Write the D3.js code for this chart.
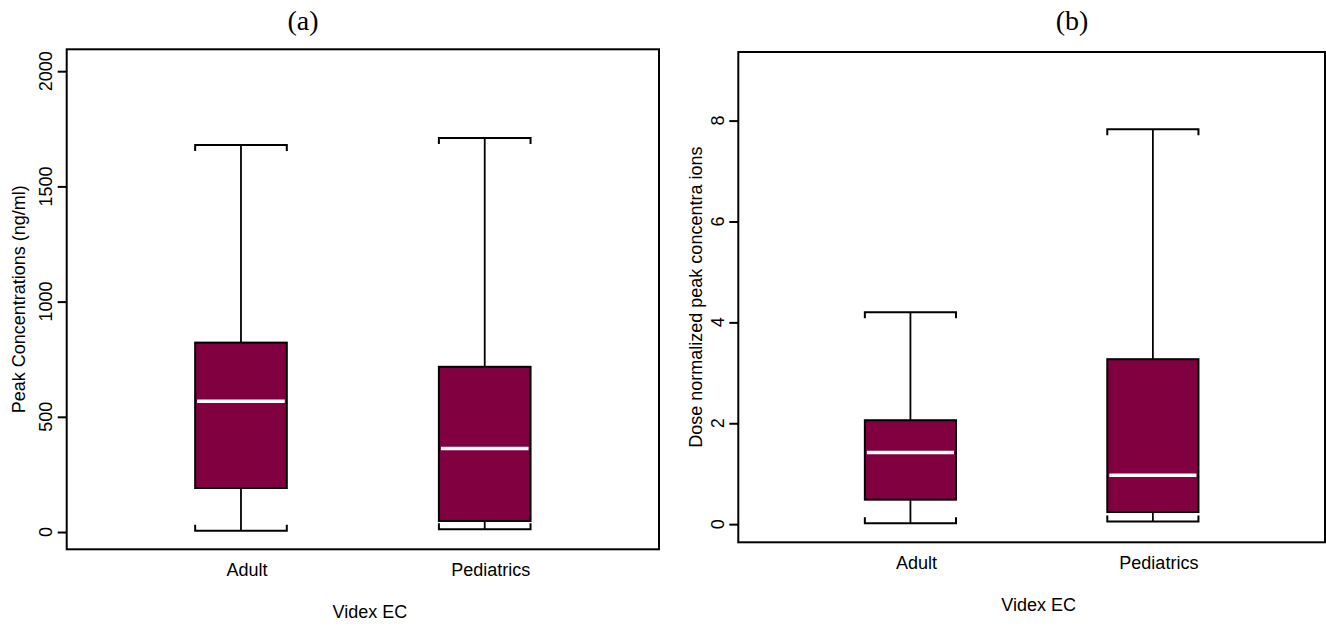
<!DOCTYPE html>
<html>
<head>
<meta charset="utf-8">
<script src="https://cdn.jsdelivr.net/npm/d3@7"></script>
<style>
  html, body { margin: 0; padding: 0; background: #fff; }
  svg { display: block; }
</style>
</head>
<body>
<svg id="chart" width="1326" height="628"></svg>
<script>
// ---- data ----
const categories = ["Adult", "Pediatrics"];
// five-number summaries: [lower whisker, Q1, median, Q3, upper whisker]
const peakConc = [
  [5, 191, 567, 822, 1680],
  [12, 48, 362, 717, 1710]
];
const doseNormPeak = [
  [0.02, 0.485, 1.42, 2.06, 4.20],
  [0.05, 0.24, 0.97, 3.27, 7.83]
];
const ticksA = [0, 500, 1000, 1500, 2000];
const ticksB = [0, 2, 4, 6, 8];
const titles = ["(a)", "(b)"];
const yTitles = ["Peak Concentrations (ng/ml)", "Dose normalized peak concentra ions"];
const xTitle = "Videx EC";

// ---- layout ----
const svg = d3.select("#chart");
const FILL = "#800040";
const SANS = "'Liberation Sans', Arial, Helvetica, sans-serif";
const SERIF = "'Liberation Serif', 'Times New Roman', serif";

const panels = [
  { data: peakConc, ticks: ticksA, title: titles[0], ytitle: yTitles[0],
    x0: 66.7, x1: 659, y0: 49.3, y1: 549.3, ydom: [-75, 2095], xdom: [0.285, 2.715],
    titleX: 303, ytitleX: 19, tickLabelX: 46.3 },
  { data: doseNormPeak, ticks: ticksB, title: titles[1], ytitle: yTitles[1],
    x0: 738.3, x1: 1325, y0: 52, y1: 542.3, ydom: [-0.36, 9.36], xdom: [0.29, 2.71],
    titleX: 1072, ytitleX: 696, tickLabelX: 718 }
];

const boxW = 0.376;

panels.forEach(p => {
  const x = d3.scaleLinear().domain(p.xdom).range([p.x0, p.x1]);
  const y = d3.scaleLinear().domain(p.ydom).range([p.y1, p.y0]);
  const g = svg.append("g");

  // y axis via d3 axis
  const yAxis = d3.axisLeft(y).tickValues(p.ticks).tickSize(9).tickFormat(d3.format("d"));
  const ax = g.append("g").attr("transform", `translate(${p.x0},0)`).call(yAxis);
  ax.select(".domain").remove();
  ax.selectAll(".tick line").attr("stroke", "#000").attr("stroke-width", 2);
  ax.selectAll(".tick text").remove();
  // rotated tick labels
  g.selectAll("text.ytick").data(p.ticks).join("text")
    .attr("class", "ytick")
    .attr("transform", d => `translate(${p.tickLabelX},${y(d)}) rotate(-90)`)
    .attr("text-anchor", "middle")
    .attr("dominant-baseline", "central")
    .attr("font-family", SANS).attr("font-size", 18).attr("fill", "#000")
    .text(d => d);

  // boxes
  categories.forEach((c, i) => {
    const [lo, q1, med, q3, hi] = p.data[i];
    const cx = x(i + 1);
    const bl = x(i + 1 - boxW / 2), br = x(i + 1 + boxW / 2);
    // whiskers
    g.append("line").attr("x1", cx).attr("x2", cx).attr("y1", y(hi)).attr("y2", y(q3))
      .attr("stroke", "#000").attr("stroke-width", 1.8);
    g.append("line").attr("x1", cx).attr("x2", cx).attr("y1", y(lo)).attr("y2", y(q1))
      .attr("stroke", "#000").attr("stroke-width", 1.8);
    // caps (bracket style)
    g.append("path")
      .attr("d", `M${bl},${y(hi) + 6}L${bl},${y(hi)}L${br},${y(hi)}L${br},${y(hi) + 6}`)
      .attr("fill", "none").attr("stroke", "#000").attr("stroke-width", 2);
    g.append("path")
      .attr("d", `M${bl},${y(lo) - 6}L${bl},${y(lo)}L${br},${y(lo)}L${br},${y(lo) - 6}`)
      .attr("fill", "none").attr("stroke", "#000").attr("stroke-width", 2);
    // box
    g.append("rect").attr("x", bl).attr("y", y(q3)).attr("width", br - bl).attr("height", y(q1) - y(q3))
      .attr("fill", FILL).attr("stroke", "#000").attr("stroke-width", 2);
    // median
    g.append("line").attr("x1", bl + 2).attr("x2", br - 2).attr("y1", y(med)).attr("y2", y(med))
      .attr("stroke", "#fff").attr("stroke-width", 3.5);
    // category label
    g.append("text").attr("x", cx + 6).attr("y", p.y1 + 21)
      .attr("text-anchor", "middle").attr("dominant-baseline", "central")
      .attr("font-family", SANS).attr("font-size", 18).attr("fill", "#000")
      .text(c);
  });

  // frame
  g.append("rect").attr("x", p.x0).attr("y", p.y0).attr("width", p.x1 - p.x0).attr("height", p.y1 - p.y0)
    .attr("fill", "none").attr("stroke", "#000").attr("stroke-width", 2);

  // titles
  g.append("text").attr("x", p.titleX).attr("y", 30)
    .attr("text-anchor", "middle").attr("font-family", SERIF).attr("font-size", 28).attr("fill", "#000")
    .text(p.title);
  g.append("text")
    .attr("transform", `translate(${p.ytitleX},${(p.y0 + p.y1) / 2}) rotate(-90)`)
    .attr("text-anchor", "middle").attr("dominant-baseline", "central")
    .attr("font-family", SANS).attr("font-size", 18).attr("fill", "#000")
    .text(p.ytitle);
  g.append("text").attr("x", (p.x0 + p.x1) / 2 + 7).attr("y", p.y1 + 63)
    .attr("text-anchor", "middle").attr("dominant-baseline", "central")
    .attr("font-family", SANS).attr("font-size", 18).attr("fill", "#000")
    .text(xTitle);
});
</script>
</body>
</html>
